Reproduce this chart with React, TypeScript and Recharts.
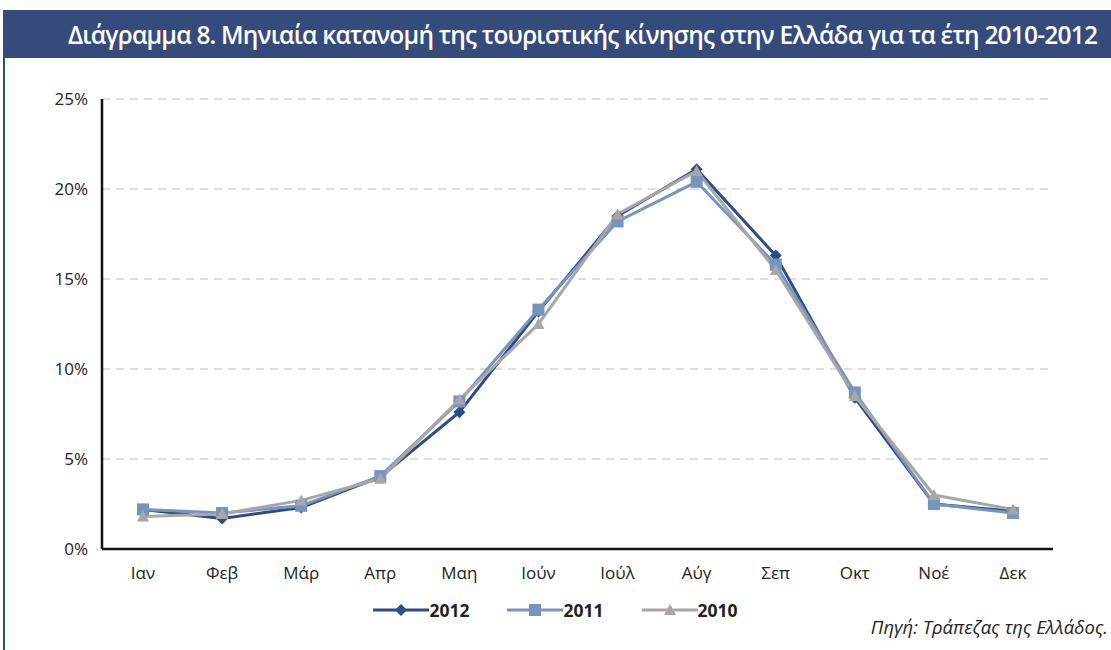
import { LineChart, Line, XAxis, YAxis, CartesianGrid, Legend } from "recharts";

const months = ["Ιαν", "Φεβ", "Μάρ", "Απρ", "Μαη", "Ιούν", "Ιούλ", "Αύγ", "Σεπ", "Οκτ", "Νοέ", "Δεκ"];
const y2012 = [2.2, 1.7, 2.3, 4.0, 7.6, 13.2, 18.5, 21.1, 16.3, 8.4, 2.5, 2.1];
const y2011 = [2.2, 2.0, 2.4, 4.05, 8.2, 13.3, 18.2, 20.4, 15.8, 8.7, 2.5, 2.0];
const y2010 = [1.8, 1.95, 2.7, 3.9, 8.3, 12.5, 18.6, 21.0, 15.5, 8.5, 3.0, 2.2];
const yTicks = [0, 5, 10, 15, 20, 25];

const data = months.map((m, i) => ({ month: m, s2012: y2012[i], s2011: y2011[i], s2010: y2010[i] }));

const C2012 = "#2f4b8a";
const C2011 = "#7594be";
const C2010 = "#aba6a6";
const FONT = "'Open Sans', 'Noto Sans', sans-serif";

function Diamond(props: any) {
  const { cx, cy } = props;
  if (cx == null || cy == null) return null;
  return <path d={`M${cx},${cy - 6}L${cx + 6},${cy}L${cx},${cy + 6}L${cx - 6},${cy}Z`} fill={C2012} />;
}
function Square(props: any) {
  const { cx, cy } = props;
  if (cx == null || cy == null) return null;
  return <rect x={cx - 6} y={cy - 6} width={12} height={12} fill={C2011} />;
}
function Tri(props: any) {
  const { cx, cy } = props;
  if (cx == null || cy == null) return null;
  return <path d={`M${cx},${cy - 6}L${cx + 6},${cy + 5}L${cx - 6},${cy + 5}Z`} fill={C2010} />;
}

const legendItems = [
  { label: "2012", color: C2012, marker: "d" },
  { label: "2011", color: C2011, marker: "s" },
  { label: "2010", color: C2010, marker: "t" },
];

function LegendContent() {
  return (
    <div style={{ display: "flex", justifyContent: "center", gap: 38, fontFamily: FONT }}>
      {legendItems.map((it) => (
        <div key={it.label} style={{ display: "flex", alignItems: "center" }}>
          <svg width={56} height={16}>
            <line x1={0} y1={8} x2={56} y2={8} stroke={it.color} strokeWidth={3} />
            {it.marker === "d" && <path d="M28,2L34,8L28,14L22,8Z" fill={it.color} />}
            {it.marker === "s" && <rect x={22} y={2} width={12} height={12} fill={it.color} />}
            {it.marker === "t" && <path d="M28,2L34,13L22,13Z" fill={it.color} />}
          </svg>
          <span style={{ fontSize: 17.5, fontWeight: 700, color: "#222" }}>{it.label}</span>
        </div>
      ))}
    </div>
  );
}

export default function App() {
  return (
    <div style={{ position: "relative", width: 1111, height: 650, background: "#fff", overflow: "hidden" }}>
      <style>{"body{margin:0}"}</style>
      <div
        style={{
          position: "absolute",
          left: 3,
          top: 10,
          width: 1108,
          height: 48,
          background: "#354b7b",
          color: "#fff",
          fontFamily: FONT,
          fontSize: 24.5,
          fontWeight: 600,
          display: "flex",
          alignItems: "center",
          justifyContent: "flex-start",
          paddingLeft: 65,
          boxSizing: "border-box",
          whiteSpace: "nowrap",
          letterSpacing: -0.8,
        }}
      >
        Διάγραμμα 8. Μηνιαία κατανομή της τουριστικής κίνησης στην Ελλάδα για τα έτη 2010-2012
      </div>
      <div style={{ position: "absolute", left: 3, top: 58, width: 1.5, height: 592, background: "#354b7b" }} />
      <div style={{ position: "absolute", left: 0, top: 0 }}>
        <LineChart width={1111} height={650} data={data} margin={{ top: 99, right: 58, bottom: 47, left: 42 }}>
          <CartesianGrid vertical={false} stroke="#bdbdbd" strokeDasharray="8 6" />
          <XAxis
            dataKey="month"
            axisLine={{ stroke: "#111", strokeWidth: 2.5 }}
            tickLine={false}
            tick={{ fill: "#222", fontSize: 17, fontFamily: FONT }}
            height={30}
            dy={10}
            padding={{ left: 41, right: 40 }}
          />
          <YAxis
            domain={[0, 25]}
            ticks={yTicks}
            tickFormatter={(v: number) => `${v}%`}
            axisLine={{ stroke: "#111", strokeWidth: 2.5 }}
            tickLine={false}
            tick={{ fill: "#222", fontSize: 17, fontFamily: FONT }}
            width={60}
            dx={-6}
          />
          <Legend
            verticalAlign="bottom"
            content={<LegendContent />}
            wrapperStyle={{ bottom: 28, left: 0, width: 1111 }}
          />
          <Line dataKey="s2012" name="2012" stroke={C2012} strokeWidth={3} dot={<Diamond />} isAnimationActive={false} />
          <Line dataKey="s2011" name="2011" stroke={C2011} strokeWidth={3} dot={<Square />} isAnimationActive={false} />
          <Line dataKey="s2010" name="2010" stroke={C2010} strokeWidth={3} dot={<Tri />} isAnimationActive={false} />
        </LineChart>
      </div>
      <div
        style={{
          position: "absolute",
          right: 3,
          top: 614,
          fontFamily: FONT,
          fontStyle: "italic",
          fontSize: 18.5,
          color: "#222",
        }}
      >
        Πηγή: Τράπεζας της Ελλάδος.
      </div>
    </div>
  );
}
